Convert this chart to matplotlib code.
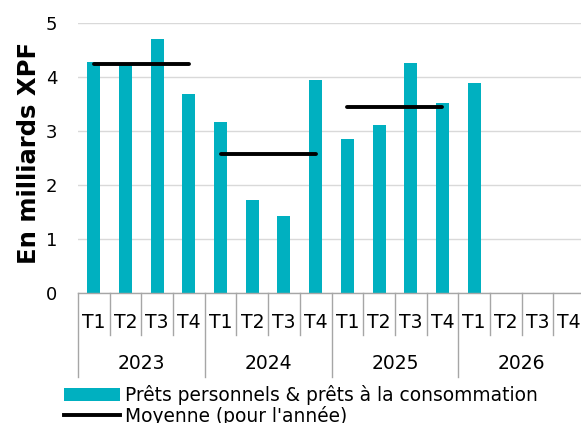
import matplotlib
matplotlib.use("Agg")
import matplotlib.pyplot as plt
import matplotlib.transforms as mtransforms
from matplotlib.lines import Line2D
from matplotlib.patches import Patch
import numpy as np

plt.rcParams['font.family'] = ['DejaVu Sans']

years = ["2023", "2024", "2025", "2026"]
quarters = ["T1", "T2", "T3", "T4"]
values = [4.28, 4.27, 4.71, 3.69,
          3.17, 1.73, 1.43, 3.94,
          2.86, 3.12, 4.26, 3.52,
          3.89, np.nan, np.nan, np.nan]
averages = [4.25, 2.57, 3.44, np.nan]

bar_label = "Prêts personnels & prêts à la consommation"
avg_label = "Moyenne (pour l'année)"
ylabel = "En milliards XPF"

teal = "#00B0C0"
grey = "#A6A6A6"

fig = plt.figure(figsize=(5.81, 4.23), dpi=100)
ax = fig.add_axes([78/581, 130/423, 507/581, 269.7/423])

n = len(values)
x = np.arange(n)
ax.bar(x, values, width=0.41, color=teal, zorder=2)

for i, avg in enumerate(averages):
    if np.isfinite(avg):
        ax.plot([4*i, 4*i + 3], [avg, avg], color="black", lw=2.8,
                solid_capstyle="round", zorder=3)

ax.set_xlim(-0.5, n - 0.5)
ax.set_ylim(0, 5)
ax.set_yticks(range(0, 6))
ax.yaxis.grid(True, color="#D9D9D9", lw=1.0, zorder=0)
ax.set_axisbelow(True)
for s in ["left", "right", "top"]:
    ax.spines[s].set_visible(False)
ax.spines["bottom"].set_color(grey)
ax.spines["bottom"].set_linewidth(1.0)
ax.tick_params(axis="y", length=0, pad=15, labelsize=13)
ax.set_xticks([])
ax.set_ylabel(ylabel, fontsize=17.5, fontweight="bold")
ax.yaxis.set_label_coords(-0.072, 0.52)

trans = mtransforms.blended_transform_factory(ax.transData, ax.transAxes)
h = 269.7
for k in range(n + 1):
    xb = k - 0.5
    ybot = -84 / h if k % 4 == 0 else -42 / h
    ax.add_line(Line2D([xb, xb], [0, ybot], transform=trans, color=grey,
                       lw=1.0, clip_on=False))
for i, q in enumerate(x):
    ax.text(q, -29 / h, quarters[i % 4], transform=trans, ha="center",
            va="center", fontsize=13.5)
for j, yr in enumerate(years):
    ax.text(4*j + 1.5, -70 / h, yr, transform=trans, ha="center",
            va="center", fontsize=13.5)

handles = [Patch(facecolor=teal, edgecolor="none"),
           Line2D([0], [0], color="black", lw=2.8)]
fig.legend(handles, [bar_label, avg_label], loc="upper left",
           bbox_to_anchor=(64/581, 1 - 385/423), frameon=False,
           fontsize=13.4, handlelength=3.0, handletextpad=0.3,
           labelspacing=0.05, borderpad=0, borderaxespad=0)

fig.savefig("out.png", dpi=100)
